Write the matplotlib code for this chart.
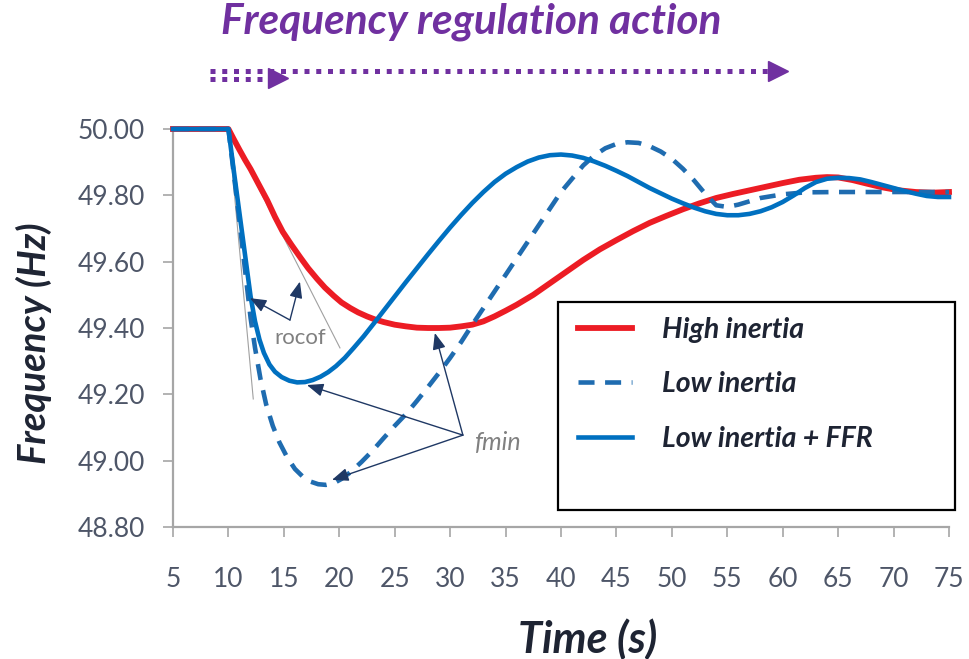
import numpy as np
import matplotlib.pyplot as plt
from matplotlib.lines import Line2D
from matplotlib.patches import Rectangle

plt.rcParams['font.family'] = ['Lato', 'DejaVu Sans']

# time (s) / frequency (Hz)
t_high = [5, 10, 10.5, 11, 11.5, 12, 12.7, 13.5, 14.2, 14.9, 15.7, 16.5, 17.2, 18, 18.7, 19.5,
          20.2, 21, 21.7, 22.5, 23.2, 24, 25, 26, 27, 28, 29, 30, 31, 32, 33, 34, 35, 36, 37.5,
          39, 40.5, 42, 43.5, 45, 46.5, 48, 49.5, 51, 52.5, 54, 55.5, 57, 58.5, 60, 61.5, 63, 64,
          65, 66.3, 67.5, 69, 70.5, 72, 73.5, 75]
f_high = [50.00, 50.00, 49.968, 49.937, 49.907, 49.879, 49.835, 49.785, 49.735, 49.69, 49.65,
          49.612, 49.58, 49.548, 49.522, 49.497, 49.477, 49.46, 49.447, 49.435, 49.426, 49.418,
          49.41, 49.405, 49.401, 49.40, 49.40, 49.401, 49.405, 49.41, 49.42, 49.435, 49.452,
          49.47, 49.50, 49.535, 49.57, 49.605, 49.637, 49.665, 49.692, 49.717, 49.738, 49.758,
          49.776, 49.792, 49.804, 49.815, 49.826, 49.837, 49.847, 49.853, 49.855, 49.854, 49.846,
          49.836, 49.824, 49.815, 49.81, 49.808, 49.81]

t_low = [5, 10, 10.5, 11, 11.5, 12, 12.4, 12.9, 13.4, 14, 14.6, 15.3, 16, 16.7, 17.4, 18.1,
         18.8, 19.5, 20.2, 21, 22, 23, 24, 25, 26, 27, 28, 29, 30, 31, 32, 33, 34, 35, 36, 37,
         38, 39, 40, 41, 42, 43, 44, 45, 46, 47, 48, 49, 50, 51, 52, 53, 54, 55, 56, 57, 58, 60,
         62, 65, 75]
f_low = [50.00, 50.00, 49.86, 49.72, 49.575, 49.43, 49.34, 49.245, 49.17, 49.105, 49.055, 49.01,
         48.975, 48.952, 48.937, 48.929, 48.927, 48.932, 48.945, 48.965, 48.996, 49.03, 49.068,
         49.105, 49.14, 49.18, 49.222, 49.265, 49.31, 49.358, 49.41, 49.46, 49.51, 49.56, 49.61,
         49.66, 49.71, 49.76, 49.81, 49.85, 49.89, 49.92, 49.942, 49.955, 49.96, 49.958, 49.948,
         49.932, 49.91, 49.88, 49.845, 49.805, 49.77, 49.765, 49.772, 49.782, 49.792, 49.803,
         49.809, 49.81, 49.81]

t_ffr = [5, 10, 10.5, 11, 11.5, 12, 12.4, 12.8, 13.2, 13.7, 14.2, 14.8, 15.5, 16.2, 16.9, 17.6,
         18.3, 19, 19.7, 20.5, 21.3, 22.2, 23.1, 24, 25, 26, 27, 28, 29, 30, 31, 32, 33, 34, 35,
         36, 37, 38, 39, 40, 41, 42, 43, 44, 45, 46, 47, 48, 49, 50, 51, 52, 53, 54, 55, 56, 57,
         58, 59, 60, 61, 62, 63, 64, 65, 66, 67, 68, 69, 70, 71, 72, 73, 74, 75]
f_ffr = [50.00, 50.00, 49.87, 49.745, 49.62, 49.495, 49.42, 49.365, 49.325, 49.29, 49.268,
         49.252, 49.241, 49.236, 49.237, 49.243, 49.253, 49.267, 49.285, 49.31, 49.34, 49.375,
         49.413, 49.452, 49.495, 49.538, 49.58, 49.622, 49.663, 49.703, 49.741, 49.777, 49.81,
         49.84, 49.865, 49.885, 49.902, 49.914, 49.921, 49.923, 49.92, 49.913, 49.902, 49.889,
         49.874, 49.858, 49.84, 49.822, 49.806, 49.79, 49.776, 49.763, 49.752, 49.744, 49.74,
         49.74, 49.744, 49.752, 49.764, 49.78, 49.80, 49.822, 49.84, 49.85, 49.853, 49.852,
         49.848, 49.84, 49.831, 49.822, 49.813, 49.805, 49.798, 49.795, 49.795]

x_ticks = list(range(5, 80, 5))
y_ticks = [48.8, 49.0, 49.2, 49.4, 49.6, 49.8, 50.0]

# annotation points (data coords)
rocof_tail = (15.55, 49.424)
rocof_heads = [(11.94, 49.49), (16.45, 49.54)]
fmin_tail = (31.15, 49.077)
fmin_heads = [(17.08, 49.228), (19.34, 48.942), (28.62, 49.385)]
tangents = [((10, 50.0), (20.06, 49.34)), ((10, 50.0), (12.24, 49.186))]

RED = '#ec1c24'
BLUE = '#0070c0'
BLUE_D = '#1f6cb0'
PURPLE = '#7030a0'
DARK = '#1e2433'
TICK = '#4e5668'
AXC = '#a6a6a6'
NAVY = '#1f3864'

fig = plt.figure(figsize=(9.70, 6.59), dpi=100)
ax = fig.add_axes([173/970, 132/659, 776/970, 398/659])

for (a, b) in tangents:
    ax.plot([a[0], b[0]], [a[1], b[1]], color='#a0a0a0', lw=0.8, zorder=2)

ax.plot(t_high, f_high, color=RED, lw=4.2, label='High inertia', zorder=3, clip_on=False)
ax.plot(t_low, f_low, color=BLUE_D, lw=3.3, dashes=(3.5, 2.3), label='Low inertia', zorder=4,
        clip_on=False)
ax.plot(t_ffr, f_ffr, color=BLUE, lw=3.3, label='Low inertia + FFR', zorder=5, clip_on=False)

ax.set_xlim(5, 75)
ax.set_ylim(48.8, 50.0)
ax.set_xticks(x_ticks)
ax.set_yticks(y_ticks)
ax.set_yticklabels(['%.2f' % v for v in y_ticks])
for s in ['top', 'right']:
    ax.spines[s].set_visible(False)
for s in ['left', 'bottom']:
    ax.spines[s].set_color(AXC)
    ax.spines[s].set_linewidth(1.6)
ax.tick_params(axis='both', direction='out', length=7, width=1.2, color=AXC,
               labelsize=19, labelcolor=TICK)
ax.tick_params(axis='y', pad=13)
ax.tick_params(axis='x', pad=22)

for tail, heads in [(rocof_tail, rocof_heads), (fmin_tail, fmin_heads)]:
    for h in heads:
        ax.annotate('', xy=h, xytext=tail,
                    arrowprops=dict(arrowstyle='-|>,head_length=0.55,head_width=0.22',
                                    color=NAVY, lw=1.0, shrinkA=0, shrinkB=0,
                                    mutation_scale=18), zorder=6)
ax.text(16.45, 49.37, 'rocof', color='#808080', fontsize=16, ha='center', va='center', zorder=6)
ax.text(34.3, 49.056, 'fmin', color='#808080', fontsize=18, style='italic',
        ha='center', va='center', zorder=6)

# legend box
ax.add_patch(Rectangle((0.496, 0.043), 0.512, 0.522, transform=ax.transAxes, facecolor='white',
                       edgecolor='black', lw=1.6, clip_on=False, zorder=7))
leg = ax.legend(loc='upper left', bbox_to_anchor=(0.522, 0.528), frameon=False,
                prop=dict(size=20.5, weight='bold', style='italic'), handlelength=1.9,
                handletextpad=1.05, labelspacing=1.0, borderpad=0, borderaxespad=0)
leg.set_zorder(8)
for txt in leg.get_texts():
    txt.set_color(DARK)

fig.text(34/970, 1 - 343/659, 'Frequency (Hz)', rotation=90, ha='center', va='center',
         fontsize=27.5, weight='bold', style='italic', color=DARK)
fig.text(588/970, 1 - 639/659, 'Time (s)', ha='center', va='center',
         fontsize=31, weight='bold', style='italic', color=DARK)
fig.text(471/970, 1 - 22/659, 'Frequency regulation action', ha='center', va='center',
         fontsize=30.5, weight='bold', style='italic', color=PURPLE)

# purple dotted arrows
def px(x, y):
    return x / 970, 1 - y / 659

for (x0, x1, y) in [(210, 770, 70.5), (210, 263, 79)]:
    (a, b), (c, d) = px(x0, y), px(x1, y)
    fig.add_artist(Line2D([a, c], [b, d], color=PURPLE, lw=3.6, dashes=(1.0, 1.35),
                          dash_capstyle='butt', transform=fig.transFigure))
for (x, y) in [(778, 70.5), (278, 78)]:
    a, b = px(x, y)
    fig.add_artist(Line2D([a], [b], marker='>', color=PURPLE, markersize=15, lw=0,
                          transform=fig.transFigure))

plt.savefig('out.png', dpi=100)
